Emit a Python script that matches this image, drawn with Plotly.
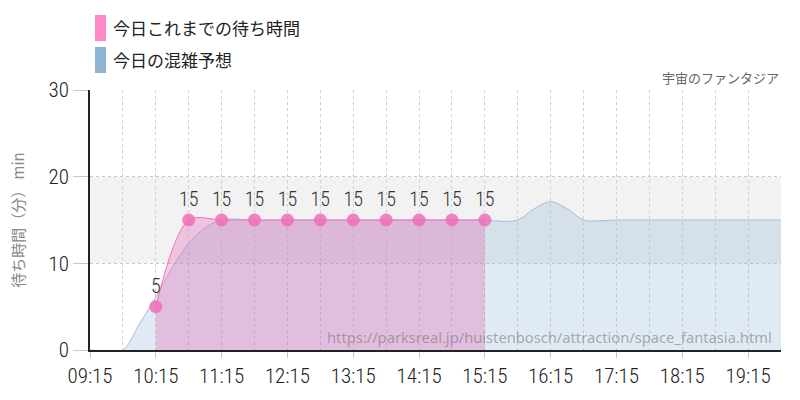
import plotly.graph_objects as go

DAY = "2024-01-01 "

forecast_times = [
    "09:15", "09:30", "09:45", "10:00", "10:15", "10:30", "10:45", "11:00",
    "11:15", "11:30", "11:45", "12:00", "12:15", "12:30", "12:45", "13:00",
    "13:15", "13:30", "13:45", "14:00", "14:15", "14:30", "14:45", "15:00",
    "15:15", "15:30", "15:45", "16:00", "16:15", "16:30", "16:45", "17:00",
    "17:15", "17:30", "17:45", "18:00", "18:15", "18:30", "18:45", "19:00",
    "19:15", "19:30", "19:45",
]
forecast_values = [
    0.0, -0.1, 0.0, 3.0, 6.1, 9.5, 12.3, 14.1,
    15.0, 15.1, 15.0, 15.0, 15.0, 15.0, 15.0, 15.0,
    15.0, 15.0, 15.0, 15.0, 15.0, 15.0, 15.0, 15.0,
    15.0, 14.85, 15.0, 16.3, 17.1, 16.3, 15.0, 14.9,
    15.0, 15.0, 15.0, 15.0, 15.0, 15.0, 15.0, 15.0,
    15.0, 15.0, 15.0,
]

actual_times = [
    "10:15", "10:45", "11:15", "11:45", "12:15", "12:45",
    "13:15", "13:45", "14:15", "14:45", "15:15",
]
actual_values = [5, 15, 15, 15, 15, 15, 15, 15, 15, 15, 15]

tick_labels = ["09:15", "10:15", "11:15", "12:15", "13:15", "14:15",
               "15:15", "16:15", "17:15", "18:15", "19:15"]

legend_names = ["今日これまでの待ち時間", "今日の混雑予想"]
legend_colors = ["#ff8ac8", "#8fb3d2"]
title_text = "宇宙のファンタジア"
y_title = "待ち時間（分） min"
watermark = "https://parksreal.jp/huistenbosch/attraction/space_fantasia.html"

NUM_FONT = "Roboto Condensed, Liberation Sans Narrow, sans-serif"
JP_FONT = "Noto Sans CJK JP, Noto Sans, sans-serif"

fx = [DAY + t for t in forecast_times]
ax = [DAY + t for t in actual_times]

fig = go.Figure()

fig.add_trace(go.Scatter(
    x=fx, y=forecast_values, mode="lines",
    line=dict(color="#a3bfd9", width=1, shape="spline", smoothing=1),
    fill="tozeroy", fillcolor="rgba(140,180,215,0.28)",
    name=legend_names[1], showlegend=False, hoverinfo="x+y",
))

fig.add_trace(go.Scatter(
    x=ax, y=actual_values, mode="lines+markers+text",
    line=dict(color="#ff6eb8", width=1, shape="spline", smoothing=0.9),
    fill="tozeroy", fillcolor="rgba(230,100,180,0.33)",
    marker=dict(size=13, color="rgba(240,110,185,0.85)"),
    text=[str(v) for v in actual_values], textposition="top center",
    textfont=dict(family=NUM_FONT, size=20, weight=300, color="#333333"),
    name=legend_names[0], showlegend=False, hoverinfo="x+y",
))

shapes = [
    dict(type="rect", xref="paper", yref="y", x0=0, x1=1, y0=10, y1=20,
         fillcolor="#f2f2f2", line=dict(width=0), layer="below"),
]
annotations = []
for i, (name, col) in enumerate(zip(legend_names, legend_colors)):
    yc = 28 + i * 32
    shapes.append(dict(type="rect", xref="paper", yref="paper",
                       x0=(95 - 90) / 691, x1=(106 - 90) / 691,
                       y0=(350 - (yc + 13)) / 260, y1=(350 - (yc - 13)) / 260,
                       fillcolor=col, line=dict(width=0)))
    annotations.append(dict(xref="paper", yref="paper",
                            x=(111 - 90) / 691, y=(350 - yc) / 260,
                            xanchor="left", yanchor="middle", showarrow=False,
                            text=name, font=dict(family=JP_FONT, size=17, color="#222222")))

annotations.append(dict(xref="paper", yref="paper", x=1, y=(350 - 78) / 260,
                        xanchor="right", yanchor="middle", showarrow=False,
                        text=title_text, font=dict(family=JP_FONT, size=13, color="#666666")))
annotations.append(dict(xref="paper", yref="paper", x=(774 - 90) / 691, y=(350 - 337) / 260,
                        xanchor="right", yanchor="middle", showarrow=False,
                        text=watermark,
                        font=dict(family="Noto Sans, sans-serif", size=14.7, color="rgba(110,110,110,0.55)")))

fig.update_layout(
    width=800, height=400,
    margin=dict(l=90, r=19, t=90, b=50),
    plot_bgcolor="white", paper_bgcolor="white",
    showlegend=False,
    shapes=shapes, annotations=annotations,
    xaxis=dict(
        type="date",
        range=[DAY + "09:15", DAY + "19:45"],
        tickvals=[DAY + t for t in tick_labels], ticktext=tick_labels,
        tickfont=dict(family=NUM_FONT, size=21, weight=300, color="#222222"),
        ticks="outside", ticklen=6, tickcolor="#c8c8c8",
        showgrid=True, gridcolor="#d0d0d0", griddash="3px,3px", gridwidth=1,
        minor=dict(dtick=1800000, tick0=DAY + "09:15", showgrid=True,
                   gridcolor="#d0d0d0", griddash="3px,3px", ticks=""),
        showline=True, linecolor="#222222", linewidth=1.5,
        zeroline=False, fixedrange=True,
    ),
    yaxis=dict(
        range=[0, 30], tickvals=[0, 10, 20, 30],
        tickfont=dict(family=NUM_FONT, size=21, weight=300, color="#222222"),
        ticks="outside", ticklen=15, tickcolor="#c8c8c8",
        showgrid=True, gridcolor="#c8c8c8", griddash="dot", gridwidth=1,
        showline=True, linecolor="#222222", linewidth=1.5,
        zeroline=False,
        title=dict(text=y_title, font=dict(family=JP_FONT, size=15, color="#888888"), standoff=20),
        fixedrange=True,
    ),
)

fig.write_html("out.html")
